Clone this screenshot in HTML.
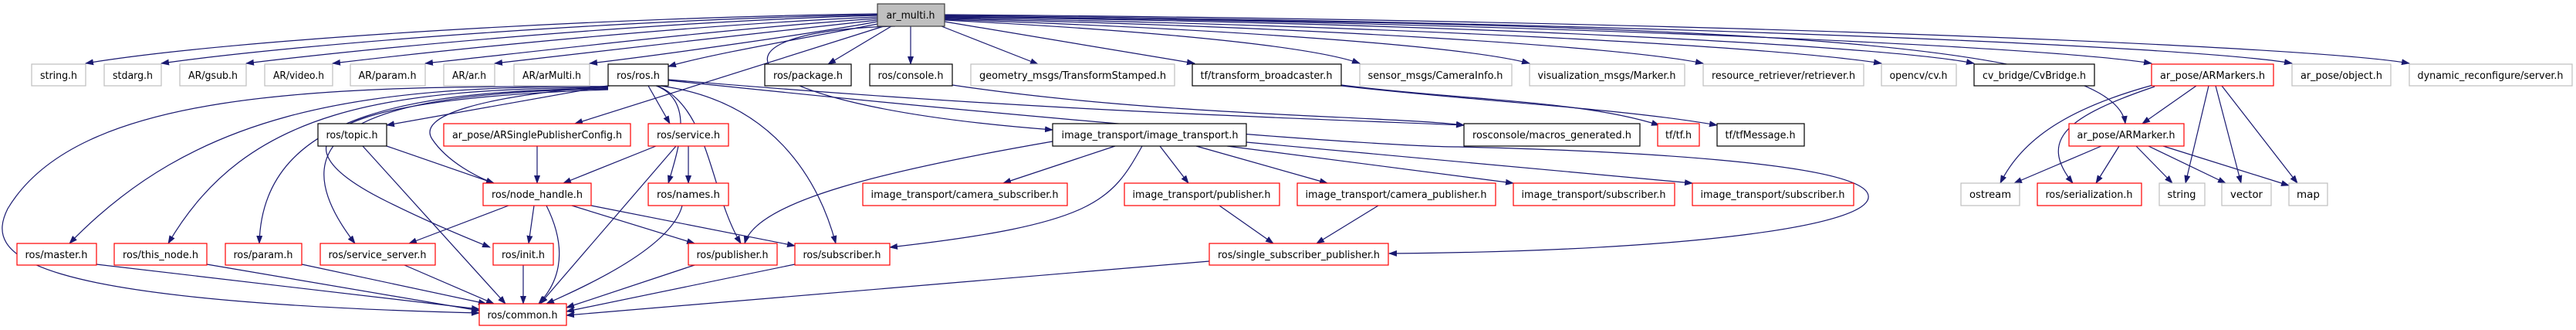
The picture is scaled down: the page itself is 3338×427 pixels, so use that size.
<!DOCTYPE html>
<html><head><meta charset="utf-8"><style>
html,body{margin:0;padding:0;background:#fff;}
svg{display:block;}
text{font-family:"DejaVu Sans Condensed","DejaVu Sans","Liberation Sans",sans-serif;font-size:13px;fill:#000;text-anchor:middle;}
.e{fill:none;stroke:#191970;stroke-width:1.2;marker-end:url(#a);}
.g{fill:#fff;stroke:#bfbfbf;stroke-width:1.2;}
.r{fill:#fff;stroke:#ff0000;stroke-width:1.2;}
.k{fill:#fff;stroke:#000;stroke-width:1.2;}
</style></head><body>
<svg width="3338" height="427" viewBox="0 0 3338 427" xmlns="http://www.w3.org/2000/svg">
<defs><marker id="a" markerUnits="userSpaceOnUse" markerWidth="11" markerHeight="8" refX="10" refY="4" orient="auto"><path d="M0,0 L11,4 L0,8 z" fill="#191970"/></marker></defs>

<!-- edges from ar_multi.h -->
<path class="e" d="M1137,18 C800,22 300,50 111,82"/>
<path class="e" d="M1137,19 C820,25 400,55 209,82"/>
<path class="e" d="M1137,20 C850,28 500,60 319,82"/>
<path class="e" d="M1137,22 C900,32 600,62 431,82"/>
<path class="e" d="M1137,24 C950,36 700,66 551,82"/>
<path class="e" d="M1137,26 C1000,40 750,70 641,82"/>
<path class="e" d="M1137,28 C1050,44 850,72 764,82"/>
<path class="e" d="M1137,31 C1050,48 920,70 866,86"/>
<path class="e" d="M1145,34 L745,160"/>
<path class="e" d="M1160,34 C900,40 930,135 1364,168"/>
<path class="e" d="M1155,34 L1073,83"/>
<path class="e" d="M1180,34 L1180,83"/>
<path class="e" d="M1220,34 L1345,83"/>
<path class="e" d="M1224,28 L1548,82"/>
<path class="e" d="M1224,26 C1500,40 1700,60 1762,82"/>
<path class="e" d="M1224,25 C1600,38 1900,60 1982,82"/>
<path class="e" d="M1224,24 C1700,35 2100,60 2207,82"/>
<path class="e" d="M1224,23 C1800,33 2300,60 2438,82"/>
<path class="e" d="M1224,22 C1900,30 2450,60 2558,82"/>
<path class="e" d="M1224,21 C2000,30 2650,60 2788,82"/>
<path class="e" d="M1224,20 C2100,28 2850,60 2970,82"/>
<path class="e" d="M1224,19 C2200,26 3000,60 3122,82"/>
<path class="e" d="M1224,22 C2200,30 2740,50 2754,160"/>

<!-- ros.h edges -->
<path class="e" d="M788,111 L501,162"/>
<path class="e" d="M790,111 C620,125 540,150 560,180 C580,210 620,230 640,237"/>
<path class="e" d="M788,112 C450,110 250,150 90,315"/>
<path class="e" d="M788,113 C500,115 320,140 218,315"/>
<path class="e" d="M788,114 C550,118 340,140 336,315"/>
<path class="e" d="M788,115 C500,120 340,160 460,315"/>
<path class="e" d="M788,116 C520,125 300,160 500,260 C560,290 610,310 635,320"/>
<path class="e" d="M788,112 C400,110 100,120 10,270 C-20,330 20,390 621,405"/>
<path class="e" d="M840,111 L868,160"/>
<path class="e" d="M850,111 C900,130 880,190 866,237"/>
<path class="e" d="M852,111 C920,140 920,250 960,315"/>
<path class="e" d="M855,111 C1000,130 1060,230 1083,315"/>
<path class="e" d="M866,103 C1300,140 1600,150 1897,162"/>
<path class="e" d="M866,104 C1400,160 1800,190 1890,190 C2100,195 2400,210 2420,250 C2440,290 2200,325 1800,328"/>

<path class="e" d="M470,189 L655,393"/>
<path class="e" d="M501,189 L640,237"/>
<path class="e" d="M696,189 L696,237"/>
<path class="e" d="M850,189 L730,237"/>
<path class="e" d="M892,189 L892,237"/>
<path class="e" d="M876,189 L700,393"/>
<path class="e" d="M659,266 L530,315"/>
<path class="e" d="M692,266 L685,315"/>
<path class="e" d="M708,266 C740,330 720,370 698,393"/>
<path class="e" d="M741,266 L900,315"/>
<path class="e" d="M766,266 L1030,318"/>
<path class="e" d="M884,266 C870,320 760,370 708,393"/>
<path class="e" d="M125,342 L621,400"/>
<path class="e" d="M268,342 L621,402"/>
<path class="e" d="M391,342 L630,393"/>
<path class="e" d="M524,343 L640,393"/>
<path class="e" d="M678,343 L678,393"/>
<path class="e" d="M900,343 L734,398"/>
<path class="e" d="M1030,342 L734,403"/>
<path class="e" d="M1567,338 L734,408"/>

<!-- image_transport.h -->
<path class="e" d="M1364,183 C1150,220 980,260 965,315"/>
<path class="e" d="M1480,189 C1440,260 1420,290 1153,320"/>
<path class="e" d="M1445,189 L1300,237"/>
<path class="e" d="M1503,189 L1540,237"/>
<path class="e" d="M1550,189 L1720,237"/>
<path class="e" d="M1590,189 L1961,237"/>
<path class="e" d="M1615,184 L2193,237"/>
<path class="e" d="M1580,266 L1650,315"/>
<path class="e" d="M1786,266 L1706,315"/>
<path class="e" d="M1234,110 C1500,150 1800,150 1897,162"/>
<path class="e" d="M1738,110 C1900,130 2050,130 2150,162"/>
<path class="e" d="M1738,111 C1900,130 2100,140 2225,162"/>

<!-- ARMarkers / ARMarker -->
<path class="e" d="M2846,111 L2776,160"/>
<path class="e" d="M2790,110 C2680,140 2620,180 2592,237"/>
<path class="e" d="M2792,112 C2680,150 2640,180 2686,237"/>
<path class="e" d="M2862,111 L2832,237"/>
<path class="e" d="M2871,111 L2904,237"/>
<path class="e" d="M2879,111 L2977,237"/>
<path class="e" d="M2723,189 L2610,237"/>
<path class="e" d="M2746,189 L2716,237"/>
<path class="e" d="M2768,189 L2815,237"/>
<path class="e" d="M2784,189 L2884,237"/>
<path class="e" d="M2803,189 L2966,240"/>

<!-- nodes -->
<rect x="1137" y="5" width="87" height="29" fill="#bfbfbf" stroke="#404040" stroke-width="1.2"/><text x="1180" y="24" textLength="63" lengthAdjust="spacingAndGlyphs">ar_multi.h</text>

<rect class="g" x="41" y="83" width="70" height="28"/><text x="76" y="102" textLength="48" lengthAdjust="spacingAndGlyphs">string.h</text>
<rect class="g" x="135" y="83" width="74" height="28"/><text x="172" y="102" textLength="52" lengthAdjust="spacingAndGlyphs">stdarg.h</text>
<rect class="g" x="233" y="83" width="86" height="28"/><text x="276" y="102" textLength="64" lengthAdjust="spacingAndGlyphs">AR/gsub.h</text>
<rect class="g" x="343" y="83" width="88" height="28"/><text x="387" y="102" textLength="66" lengthAdjust="spacingAndGlyphs">AR/video.h</text>
<rect class="g" x="454" y="83" width="97" height="28"/><text x="502" y="102" textLength="75" lengthAdjust="spacingAndGlyphs">AR/param.h</text>
<rect class="g" x="575" y="83" width="66" height="28"/><text x="608" y="102" textLength="44" lengthAdjust="spacingAndGlyphs">AR/ar.h</text>
<rect class="g" x="666" y="83" width="98" height="28"/><text x="715" y="102" textLength="76" lengthAdjust="spacingAndGlyphs">AR/arMulti.h</text>
<rect class="k" x="788" y="83" width="78" height="28"/><text x="827" y="102" textLength="56" lengthAdjust="spacingAndGlyphs">ros/ros.h</text>
<rect class="k" x="991" y="83" width="112" height="28"/><text x="1047" y="102" textLength="90" lengthAdjust="spacingAndGlyphs">ros/package.h</text>
<rect class="k" x="1127" y="83" width="107" height="28"/><text x="1180" y="102" textLength="85" lengthAdjust="spacingAndGlyphs">ros/console.h</text>
<rect class="g" x="1258" y="83" width="264" height="28"/><text x="1390" y="102" textLength="242" lengthAdjust="spacingAndGlyphs">geometry_msgs/TransformStamped.h</text>
<rect class="k" x="1545" y="83" width="193" height="28"/><text x="1641" y="102" textLength="171" lengthAdjust="spacingAndGlyphs">tf/transform_broadcaster.h</text>
<rect class="g" x="1762" y="83" width="197" height="28"/><text x="1860" y="102" textLength="175" lengthAdjust="spacingAndGlyphs">sensor_msgs/CameraInfo.h</text>
<rect class="g" x="1982" y="83" width="201" height="28"/><text x="2082" y="102" textLength="179" lengthAdjust="spacingAndGlyphs">visualization_msgs/Marker.h</text>
<rect class="g" x="2207" y="83" width="208" height="28"/><text x="2311" y="102" textLength="186" lengthAdjust="spacingAndGlyphs">resource_retriever/retriever.h</text>
<rect class="g" x="2438" y="83" width="97" height="28"/><text x="2486" y="102" textLength="75" lengthAdjust="spacingAndGlyphs">opencv/cv.h</text>
<rect class="k" x="2558" y="83" width="156" height="28"/><text x="2636" y="102" textLength="134" lengthAdjust="spacingAndGlyphs">cv_bridge/CvBridge.h</text>
<rect class="r" x="2788" y="83" width="158" height="28"/><text x="2867" y="102" textLength="136" lengthAdjust="spacingAndGlyphs">ar_pose/ARMarkers.h</text>
<rect class="g" x="2970" y="83" width="128" height="28"/><text x="3034" y="102" textLength="106" lengthAdjust="spacingAndGlyphs">ar_pose/object.h</text>
<rect class="g" x="3122" y="83" width="211" height="28"/><text x="3227" y="102" textLength="189" lengthAdjust="spacingAndGlyphs">dynamic_reconfigure/server.h</text>

<rect class="k" x="412" y="160" width="89" height="29"/><text x="456" y="179" textLength="67" lengthAdjust="spacingAndGlyphs">ros/topic.h</text>
<rect class="r" x="575" y="160" width="242" height="29"/><text x="696" y="179" textLength="220" lengthAdjust="spacingAndGlyphs">ar_pose/ARSinglePublisherConfig.h</text>
<rect class="r" x="840" y="160" width="104" height="29"/><text x="892" y="179" textLength="82" lengthAdjust="spacingAndGlyphs">ros/service.h</text>
<rect class="k" x="1364" y="160" width="251" height="29"/><text x="1490" y="179" textLength="229" lengthAdjust="spacingAndGlyphs">image_transport/image_transport.h</text>
<rect class="k" x="1897" y="160" width="228" height="29"/><text x="2011" y="179" textLength="206" lengthAdjust="spacingAndGlyphs">rosconsole/macros_generated.h</text>
<rect class="r" x="2148" y="160" width="54" height="29"/><text x="2175" y="179" textLength="34" lengthAdjust="spacingAndGlyphs">tf/tf.h</text>
<rect class="k" x="2225" y="160" width="113" height="29"/><text x="2281" y="179" textLength="91" lengthAdjust="spacingAndGlyphs">tf/tfMessage.h</text>
<rect class="r" x="2681" y="160" width="149" height="29"/><text x="2755" y="179" textLength="127" lengthAdjust="spacingAndGlyphs">ar_pose/ARMarker.h</text>

<rect class="r" x="626" y="237" width="140" height="29"/><text x="696" y="256" textLength="118" lengthAdjust="spacingAndGlyphs">ros/node_handle.h</text>
<rect class="r" x="840" y="237" width="104" height="29"/><text x="892" y="256" textLength="82" lengthAdjust="spacingAndGlyphs">ros/names.h</text>
<rect class="r" x="1118" y="237" width="265" height="29"/><text x="1250" y="256" textLength="243" lengthAdjust="spacingAndGlyphs">image_transport/camera_subscriber.h</text>
<rect class="r" x="1457" y="237" width="201" height="29"/><text x="1557" y="256" textLength="179" lengthAdjust="spacingAndGlyphs">image_transport/publisher.h</text>
<rect class="r" x="1681" y="237" width="257" height="29"/><text x="1809" y="256" textLength="235" lengthAdjust="spacingAndGlyphs">image_transport/camera_publisher.h</text>
<rect class="r" x="1961" y="237" width="209" height="29"/><text x="2065" y="256" textLength="187" lengthAdjust="spacingAndGlyphs">image_transport/subscriber.h</text>
<rect class="r" x="2193" y="237" width="209" height="29"/><text x="2297" y="256" textLength="187" lengthAdjust="spacingAndGlyphs">image_transport/subscriber.h</text>
<rect class="g" x="2541" y="237" width="76" height="29"/><text x="2579" y="256" textLength="54" lengthAdjust="spacingAndGlyphs">ostream</text>
<rect class="r" x="2640" y="237" width="135" height="29"/><text x="2707" y="256" textLength="113" lengthAdjust="spacingAndGlyphs">ros/serialization.h</text>
<rect class="g" x="2798" y="237" width="59" height="29"/><text x="2827" y="256" textLength="37" lengthAdjust="spacingAndGlyphs">string</text>
<rect class="g" x="2879" y="237" width="64" height="29"/><text x="2911" y="256" textLength="42" lengthAdjust="spacingAndGlyphs">vector</text>
<rect class="g" x="2966" y="237" width="50" height="29"/><text x="2991" y="256" textLength="30" lengthAdjust="spacingAndGlyphs">map</text>

<rect class="r" x="22" y="315" width="103" height="28"/><text x="73" y="334" textLength="81" lengthAdjust="spacingAndGlyphs">ros/master.h</text>
<rect class="r" x="148" y="315" width="120" height="28"/><text x="208" y="334" textLength="98" lengthAdjust="spacingAndGlyphs">ros/this_node.h</text>
<rect class="r" x="292" y="315" width="99" height="28"/><text x="341" y="334" textLength="77" lengthAdjust="spacingAndGlyphs">ros/param.h</text>
<rect class="r" x="415" y="315" width="149" height="28"/><text x="489" y="334" textLength="127" lengthAdjust="spacingAndGlyphs">ros/service_server.h</text>
<rect class="r" x="639" y="315" width="78" height="28"/><text x="678" y="334" textLength="56" lengthAdjust="spacingAndGlyphs">ros/init.h</text>
<rect class="r" x="892" y="315" width="115" height="28"/><text x="949" y="334" textLength="93" lengthAdjust="spacingAndGlyphs">ros/publisher.h</text>
<rect class="r" x="1030" y="315" width="123" height="28"/><text x="1091" y="334" textLength="101" lengthAdjust="spacingAndGlyphs">ros/subscriber.h</text>
<rect class="r" x="1567" y="315" width="232" height="28"/><text x="1683" y="334" textLength="210" lengthAdjust="spacingAndGlyphs">ros/single_subscriber_publisher.h</text>

<rect class="r" x="621" y="393" width="113" height="28"/><text x="677" y="412" textLength="91" lengthAdjust="spacingAndGlyphs">ros/common.h</text>
</svg>
</body></html>
